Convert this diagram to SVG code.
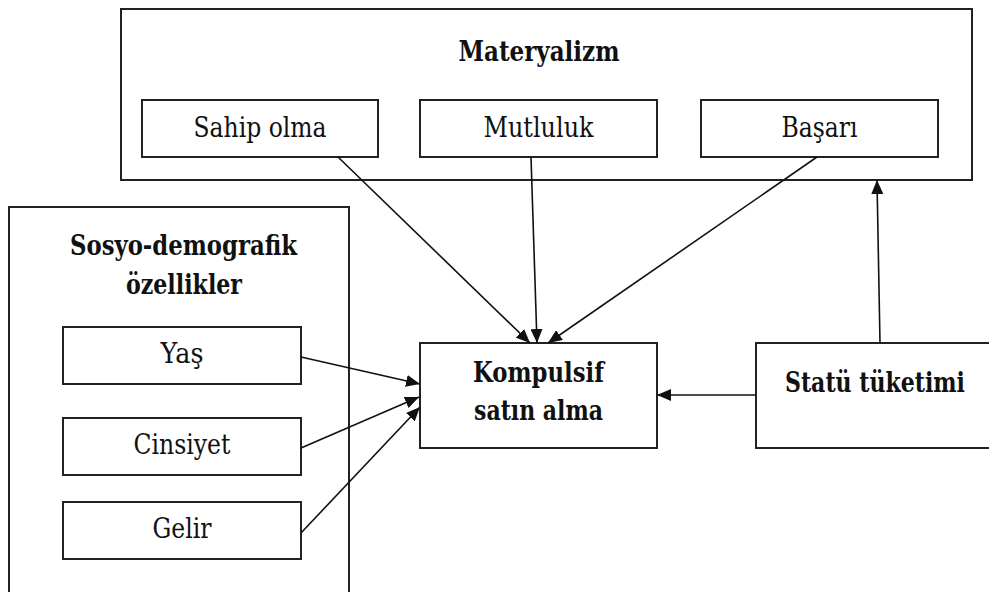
<svg xmlns="http://www.w3.org/2000/svg" width="989" height="592" viewBox="0 0 989 592">
  <style>
    .box { fill: #ffffff; stroke: #222222; stroke-width: 2; }
    .t { font-family: 'DejaVu Serif', 'Liberation Serif', serif; font-size: 27px; fill: #111111; text-anchor: middle; }
    .bold { font-weight: bold; font-size: 28px; }
    .edge { fill: none; stroke: #111111; stroke-width: 1.6; marker-end: url(#head); }
  </style>
  <defs>
    <marker id="head" markerUnits="userSpaceOnUse" markerWidth="14" markerHeight="12" refX="14" refY="6" orient="auto">
      <path d="M0,0 L14,6 L0,12 z" fill="#111111"/>
    </marker>
  </defs>

  <rect width="989" height="592" fill="#ffffff"/>

  <!-- Materialism group -->
  <g id="materyalizm">
    <rect class="box" x="121" y="9" width="851" height="171"/>
    <text class="t bold" x="539" y="61" textLength="161" lengthAdjust="spacingAndGlyphs">Materyalizm</text>
  </g>
  <g id="sahip-olma">
    <rect class="box" x="142" y="100" width="236" height="57"/>
    <text class="t" x="260" y="137" textLength="133" lengthAdjust="spacingAndGlyphs">Sahip olma</text>
  </g>
  <g id="mutluluk">
    <rect class="box" x="420" y="100" width="237" height="57"/>
    <text class="t" x="538.5" y="137" textLength="110" lengthAdjust="spacingAndGlyphs">Mutluluk</text>
  </g>
  <g id="basari">
    <rect class="box" x="701" y="100" width="237" height="57"/>
    <text class="t" x="819.5" y="137" textLength="76" lengthAdjust="spacingAndGlyphs">Başarı</text>
  </g>

  <!-- Socio-demographic group -->
  <g id="sosyo-demografik">
    <rect class="box" x="9" y="207" width="340" height="400"/>
    <text class="t bold" x="183.5" y="255" textLength="227" lengthAdjust="spacingAndGlyphs">Sosyo-demografik</text>
    <text class="t bold" x="184" y="294" textLength="116" lengthAdjust="spacingAndGlyphs">özellikler</text>
  </g>
  <g id="yas">
    <rect class="box" x="63" y="327" width="238" height="57"/>
    <text class="t" x="182" y="363" textLength="43" lengthAdjust="spacingAndGlyphs">Yaş</text>
  </g>
  <g id="cinsiyet">
    <rect class="box" x="63" y="418" width="238" height="57"/>
    <text class="t" x="182" y="454" textLength="97" lengthAdjust="spacingAndGlyphs">Cinsiyet</text>
  </g>
  <g id="gelir">
    <rect class="box" x="63" y="502" width="238" height="57"/>
    <text class="t" x="182" y="538" textLength="59" lengthAdjust="spacingAndGlyphs">Gelir</text>
  </g>

  <!-- Outcome -->
  <g id="kompulsif">
    <rect class="box" x="420" y="343" width="237" height="105"/>
    <text class="t bold" x="538.5" y="382" textLength="131" lengthAdjust="spacingAndGlyphs">Kompulsif</text>
    <text class="t bold" x="538.5" y="420" textLength="129" lengthAdjust="spacingAndGlyphs">satın alma</text>
  </g>
  <g id="statu">
    <rect class="box" x="756" y="343" width="240" height="105"/>
    <text class="t bold" x="875" y="392" textLength="180" lengthAdjust="spacingAndGlyphs">Statü tüketimi</text>
  </g>

  <!-- Connectors -->
  <g id="connectors">
    <line class="edge" x1="338" y1="157" x2="530" y2="343"/>
    <line class="edge" x1="531" y1="157" x2="537" y2="343"/>
    <line class="edge" x1="817" y1="157" x2="548" y2="343"/>
    <line class="edge" x1="880" y1="343" x2="877" y2="180"/>
    <line class="edge" x1="756" y1="395" x2="657" y2="395"/>
    <line class="edge" x1="301" y1="357" x2="420" y2="384"/>
    <line class="edge" x1="301" y1="448" x2="419" y2="397"/>
    <line class="edge" x1="301" y1="533" x2="420" y2="407"/>
  </g>
</svg>
